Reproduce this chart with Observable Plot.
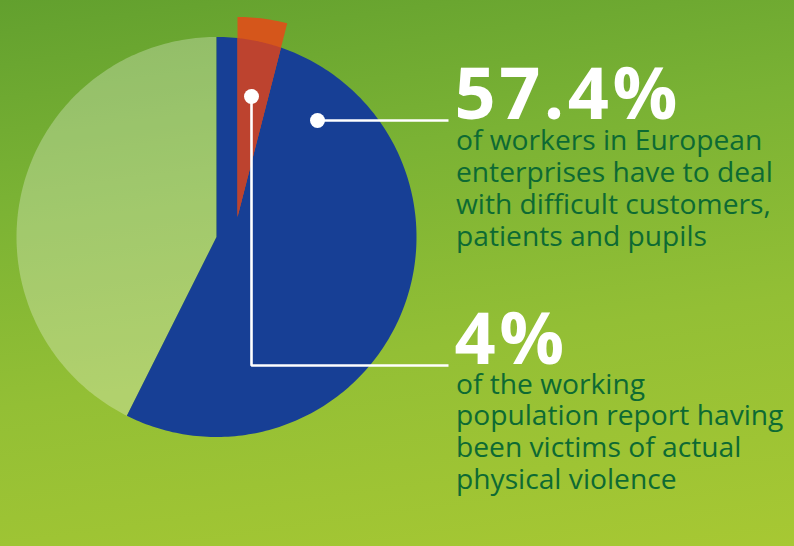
<!DOCTYPE html>
<html>
<head>
<meta charset="utf-8">
<script src="https://cdn.jsdelivr.net/npm/d3@7"></script>
<script src="https://cdn.jsdelivr.net/npm/@observablehq/plot@0.6"></script>
<style>
  html, body { margin: 0; padding: 0; }
  body {
    width: 794px; height: 546px; overflow: hidden;
    background: linear-gradient(172deg, #62a02e 0%, #7ab234 30%, #93bf35 62%, #a7c833 100%);
  }
  .headline text { letter-spacing: 3.5px; }
</style>
</head>
<body>
<div id="chart"></div>
<script>
// ---- data ----
const sliceNames = ["Workers dealing with difficult customers, patients and pupils", "Other workers"];
const shares = [57.4, 42.6];          // percent of workers
const violenceShare = 4;              // percent of working population
const headlines = ["57.4%", "4%"];
const captions = [
  "of workers in European\nenterprises have to deal\nwith difficult customers,\npatients and pupils",
  "of the working\npopulation report having\nbeen victims of actual\nphysical violence"
];

// ---- layout ----
const W = 794, H = 546;
const cx = 216, cy = 236.5, R = 200;
const explode = [21, 20];
const colors = {blue: "#173f95", rest: "#ffffff", redOut: "#d5561b", redIn: "#bd432f", text: "#0d6a33"};

// polar helpers (angle in degrees clockwise from 12 o'clock, y up)
const pt = (a, r, o = [0, 0]) => [o[0] + r * Math.sin(a * Math.PI / 180), o[1] + r * Math.cos(a * Math.PI / 180)];
function sector(a0, a1, r, o = [0, 0]) {
  const pts = [o];
  const n = Math.max(2, Math.ceil(Math.abs(a1 - a0)));
  for (let i = 0; i <= n; i++) pts.push(pt(a0 + (a1 - a0) * i / n, r, o));
  pts.push(o);
  return pts;
}
// ray from o at angle a meets circle (centre 0, radius R)
function rayHit(o, a) {
  const d = pt(a, 1);
  const b = o[0] * d[0] + o[1] * d[1];
  const c = o[0] * o[0] + o[1] * o[1] - R * R;
  const t = -b + Math.sqrt(b * b - c);
  return [o[0] + t * d[0], o[1] + t * d[1]];
}

const rows = [];
const total = d3.sum(shares);
let acc = 0;
shares.forEach((v, i) => {
  const a0 = acc / total * 360, a1 = (acc + v) / total * 360;
  acc += v;
  sector(a0, a1, R).forEach(([x, y]) => rows.push({x, y, key: sliceNames[i]}));
});
const va = violenceShare / 100 * 360;
sector(0, va, R, explode).forEach(([x, y]) => rows.push({x, y, key: "violence-out"}));
// part of the exploded wedge that lies over the pie
{
  const p0 = rayHit(explode, 0), p1 = rayHit(explode, va);
  const g0 = Math.atan2(p0[0], p0[1]) * 180 / Math.PI, g1 = Math.atan2(p1[0], p1[1]) * 180 / Math.PI;
  const pts = [explode];
  for (let i = 0; i <= 30; i++) pts.push(pt(g0 + (g1 - g0) * i / 30, R));
  pts.push(explode);
  pts.forEach(([x, y]) => rows.push({x, y, key: "violence-in"}));
}

// callouts
const lineEndX = 232;
const dot1 = [101, 116.5];
const dot2 = [explode[0] + 14, explode[1] + 120.5];
const call2Y = -128.5;
const callouts = [
  {k: 1, x: dot1[0], y: dot1[1]}, {k: 1, x: lineEndX, y: dot1[1]},
  {k: 2, x: dot2[0], y: dot2[1]}, {k: 2, x: dot2[0], y: call2Y}, {k: 2, x: lineEndX, y: call2Y}
];
const dots = [{x: dot1[0], y: dot1[1]}, {x: dot2[0], y: dot2[1]}];

const headPos = [{x: 238, y: 118.5, t: headlines[0]}, {x: 238, y: -126.5, t: headlines[1]}];
const capPos = [{x: 239.5, y: -8.5, t: captions[0]}, {x: 239.5, y: -252, t: captions[1]}];

const plot = Plot.plot({
  width: W, height: H,
  margin: 0,
  style: {background: "transparent", overflow: "visible"},
  x: {domain: [-cx, W - cx], range: [0, W], axis: null},
  y: {domain: [cy - H, cy], range: [H, 0], axis: null},
  marks: [
    Plot.line(rows.filter(d => d.key === sliceNames[1]), {x: "x", y: "y", fill: colors.rest, fillOpacity: 0.28, stroke: null}),
    Plot.line(rows.filter(d => d.key === sliceNames[0]), {x: "x", y: "y", fill: colors.blue, stroke: null}),
    Plot.line(rows.filter(d => d.key === "violence-out"), {x: "x", y: "y", fill: colors.redOut, stroke: null}),
    Plot.line(rows.filter(d => d.key === "violence-in"), {x: "x", y: "y", fill: colors.redIn, stroke: null}),
    Plot.line(callouts, {x: "x", y: "y", z: "k", stroke: "white", strokeWidth: 2.6, strokeLinejoin: "miter", strokeLinecap: "butt"}),
    Plot.dot(dots, {x: "x", y: "y", r: 7.5, fill: "white"}),
    Plot.text(headPos, {x: "x", y: "y", text: "t", textAnchor: "start", lineAnchor: "bottom", fill: "white",
      fontSize: 72, fontWeight: 700, fontFamily: "Open Sans", className: "headline"}),
    Plot.text(capPos, {x: "x", y: "y", text: "t", textAnchor: "start", lineAnchor: "bottom", fill: colors.text,
      fontSize: 28.2, lineHeight: 31.8 / 28.2, fontFamily: "Open Sans"})
  ]
});
document.getElementById("chart").appendChild(plot);
</script>
</body>
</html>
